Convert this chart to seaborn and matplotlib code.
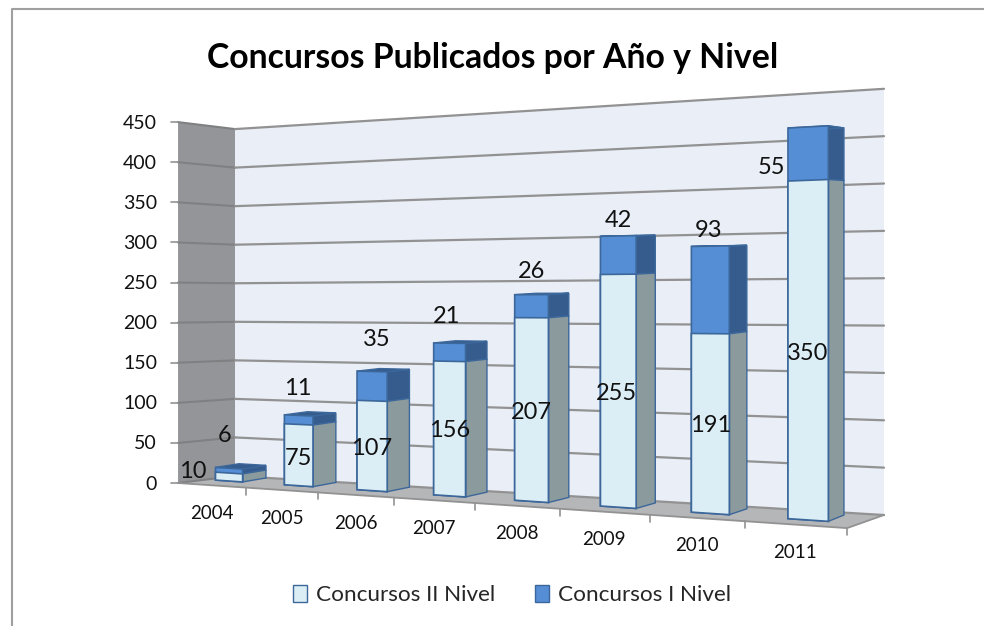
import numpy as np
import pandas as pd
import matplotlib
matplotlib.use("Agg")
import matplotlib.pyplot as plt
import matplotlib.transforms as mtransforms
from matplotlib.patches import Patch
import seaborn as sns

# values
years = ["2004", "2005", "2006", "2007", "2008", "2009", "2010", "2011"]
nivel_2 = [10, 75, 107, 156, 207, 255, 191, 350]
nivel_1 = [6, 11, 35, 21, 26, 42, 93, 55]
y_ticks = [0, 50, 100, 150, 200, 250, 300, 350, 400, 450]

# hand moved data labels, pixels away from the middle of the segment
shift_2 = [(-36, -7), (0, 2), (0, 2), (0, 1), (0, 2), (-2, 2), (0, 1), (0, 2)]
shift_1 = [(-4, -36), (-1, -32), (5, -48), (-3, -37), (0, -36), (0, -36), (-2, -60), (-37, 13)]

C_2 = "#DCEEF5"
C_1 = "#558ED5"
C_2_SIDE = "#8B9A9C"
C_1_SIDE = "#355C8C"
C_EDGE = "#3C679B"
C_GRID = "#929292"


class Plane(mtransforms.Transform):
    # perspective view of a vertical plane: (category, value) -> picture pixels
    input_dims = 2
    output_dims = 2
    is_separable = False
    has_inverse = False

    def __init__(self, a, b, g, d, e, f):
        super().__init__()
        self.p = (a, b, g, d, e, f)

    def transform_non_affine(self, values):
        a, b, g, d, e, f = self.p
        values = np.asarray(values, dtype=float)
        i, v = values[:, 0], values[:, 1]
        w = 1 + g * i
        return np.column_stack([(a * i + b) / w, (d * i + e - f * v) / w])

    def xy(self, i, v):
        return self.transform_non_affine([[i, v]])[0]


bar_front = Plane(61.96, 229.0, -0.02569, -7.79, 481.0, 0.796)
bar_back = Plane(61.22, 252.4, -0.02481, -7.51, 477.1, 0.785)
wall = Plane(61.29, 268.4, -0.02352, -7.18, 478.0, 0.780)
edge = Plane(62.94, 211.8, -0.02569, -7.86, 485.3, 0.8123)

sns.set_theme(style="white")
plt.rcParams["font.family"] = ["Lato", "DejaVu Sans"]

fig = plt.figure(figsize=(9.84, 6.26), dpi=100)
ax = fig.add_axes([0, 0, 1, 1])

df = pd.DataFrame({"year": years, "n2": nivel_2, "n1": nivel_1})
df["total"] = df["n2"] + df["n1"]

sns.barplot(data=df, x="year", y="total", color=C_1, saturation=1, width=0.4, ax=ax,
            edgecolor=C_EDGE, linewidth=1.2, zorder=5)
n_top = len(ax.patches)
sns.barplot(data=df, x="year", y="n2", color=C_2, saturation=1, width=0.4, ax=ax,
            edgecolor=C_EDGE, linewidth=1.2, zorder=6)
bars = list(ax.patches)

# after this one, axes data units are the picture pixels
ax.set_xlim(0, 984)
ax.set_ylim(626, 0)
ax.axis("off")

to_px = ax.transData
x_lo, x_hi = -0.5, len(years) - 0.5
y_hi = max(y_ticks)


def quad(points, color, z, ec="none", lw=0):
    pts = np.array(points)
    ax.fill(pts[:, 0], pts[:, 1], facecolor=color, edgecolor=ec, linewidth=lw, zorder=z)


# frame of the chart, only left and top are inside the picture
ax.plot([12, 12, 984], [626, 9, 9], color="#A0A0A0", lw=1.5, zorder=0)

# walls and floor
quad([wall.xy(x_lo, 0), wall.xy(x_hi, 0), wall.xy(x_hi, y_hi), wall.xy(x_lo, y_hi)], "#E9EEF7", 1)
quad([edge.xy(x_lo, 0), wall.xy(x_lo, 0), wall.xy(x_lo, y_hi), edge.xy(x_lo, y_hi)], "#939598", 1)
quad([edge.xy(x_lo, 0), edge.xy(x_hi, 0), wall.xy(x_hi, 0), wall.xy(x_lo, 0)], "#B4B6B8", 1)

for t in y_ticks:
    p0, p1, p2 = edge.xy(x_lo, t), wall.xy(x_lo, t), wall.xy(x_hi, t)
    ax.plot([p0[0], p1[0]], [p0[1], p1[1]], color="#7E8082", lw=1.5, zorder=2)
    ax.plot([p1[0], p2[0]], [p1[1], p2[1]], color=C_GRID, lw=1.6, zorder=2)
    ax.plot([p0[0] - 7, p0[0]], [p0[1], p0[1]], color=C_GRID, lw=1.2, zorder=2)
    ax.text(p0[0] - 21, p0[1] + 1, str(t), ha="right", va="center", fontsize=14, color="#111111")

# floor edge, ticks and year labels
p_a, p_b, p_c = edge.xy(x_lo, 0), edge.xy(x_hi, 0), wall.xy(x_hi, 0)
ax.plot([p_a[0], p_b[0], p_c[0]], [p_a[1], p_b[1], p_c[1]], color=C_GRID, lw=1.3, zorder=2)
for k, yr in enumerate(years):
    px, py = edge.xy(k + 0.5, 0)
    ax.plot([px, px], [py, py + 7], color=C_GRID, lw=1.2, zorder=2)
    lx, ly = edge.xy(k, 0)
    ax.text(lx, ly + 28, yr, ha="center", va="center", fontsize=13.5, color="#111111")

# put the seaborn bars on the front plane of the boxes and build their sides from them
for n, bar in enumerate(bars):
    x0, x1 = bar.get_x(), bar.get_x() + bar.get_width()
    top = bar.get_height()
    bar.set_transform(bar_front + to_px)
    k = int(round((x0 + x1) / 2))
    if n < n_top:
        low = df["n2"].iloc[k]
        quad([bar_front.xy(x1, low), bar_back.xy(x1, low), bar_back.xy(x1, top), bar_front.xy(x1, top)],
             C_1_SIDE, 4, C_EDGE, 1)
        quad([bar_front.xy(x0, top), bar_front.xy(x1, top), bar_back.xy(x1, top), bar_back.xy(x0, top)],
             C_1_SIDE, 4, C_EDGE, 1)
    else:
        quad([bar_front.xy(x1, 0), bar_back.xy(x1, 0), bar_back.xy(x1, top), bar_front.xy(x1, top)],
             C_2_SIDE, 4, C_EDGE, 1)

# data labels
for k in range(len(years)):
    x2, y2 = bar_front.xy(k, nivel_2[k] / 2)
    x1, y1 = bar_front.xy(k, nivel_2[k] + nivel_1[k] / 2)
    ax.text(x2 + shift_2[k][0], y2 + shift_2[k][1] + 1, str(nivel_2[k]), ha="center", va="center",
            fontsize=17, color="#111111", zorder=10)
    ax.text(x1 + shift_1[k][0], y1 + shift_1[k][1] + 1, str(nivel_1[k]), ha="center", va="center",
            fontsize=17, color="#111111", zorder=10)

ax.text(493, 58, "Concursos Publicados por Año y Nivel", ha="center", va="center",
        fontsize=24.3, fontweight="bold", color="black")

handles = [Patch(facecolor=C_2, edgecolor=C_EDGE, label="Concursos II Nivel"),
           Patch(facecolor=C_1, edgecolor=C_EDGE, label="Concursos I Nivel")]
ax.legend(handles=handles, ncol=2, loc="center", bbox_to_anchor=(512, 595),
          bbox_transform=to_px, frameon=False, fontsize=16.2, handlelength=0.65, handleheight=0.8,
          columnspacing=1.75, handletextpad=0.4)

plt.savefig("out.png", dpi=100)
